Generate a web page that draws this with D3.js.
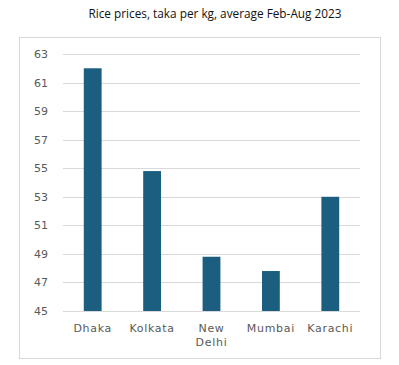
<!DOCTYPE html>
<html>
<head>
<meta charset="utf-8">
<script src="https://cdn.jsdelivr.net/npm/d3@7"></script>
<style>
  body { margin: 0; background: #fff; }
  svg { display: block; }
</style>
</head>
<body>
<svg id="chart" width="399" height="365"></svg>
<script>
const cities = [["Dhaka"], ["Kolkata"], ["New", "Delhi"], ["Mumbai"], ["Karachi"]];
const prices = [62, 54.8, 48.8, 47.8, 53];
const yTicks = [45, 47, 49, 51, 53, 55, 57, 59, 61, 63];

const TITLE = "Rice prices, taka per kg, average Feb-Aug 2023";
const BAR_COLOR = "#1b5e7f";

const svg = d3.select("#chart");

// outer frame
svg.append("rect")
    .attr("x", 19.5).attr("y", 37.5)
    .attr("width", 361).attr("height", 321)
    .attr("fill", "#fff")
    .attr("stroke", "#d9d9d9");

svg.append("text")
    .attr("x", 215).attr("y", 18)
    .attr("text-anchor", "middle")
    .style("font-family", "'Open Sans', sans-serif")
    .style("font-size", "11.8px")
    .attr("fill", "#111")
    .text(TITLE);

const x = d3.scaleBand()
    .domain(cities.map((c) => c.join(" ")))
    .range([63, 360])
    .paddingInner(0.7)
    .paddingOuter(0.35);

const y = d3.scaleLinear()
    .domain([45, 63])
    .range([311, 54]);

// gridlines
svg.append("g")
    .selectAll("line")
    .data(yTicks)
    .join("line")
    .attr("x1", 63).attr("x2", 360)
    .attr("y1", (d) => Math.round(y(d)) + 0.5)
    .attr("y2", (d) => Math.round(y(d)) + 0.5)
    .attr("stroke", "#d9d9d9")
    .attr("stroke-width", 1);

// y labels
svg.append("g")
    .selectAll("text")
    .data(yTicks)
    .join("text")
    .attr("x", 48)
    .attr("y", (d) => y(d) + 4)
    .attr("text-anchor", "end")
    .style("font-family", "'DejaVu Sans', sans-serif")
    .style("font-size", "11px")
    .attr("fill", "#595959")
    .text((d) => d);

// bars
svg.append("g")
    .selectAll("rect")
    .data(prices)
    .join("rect")
    .attr("x", (d, i) => x(cities[i].join(" ")))
    .attr("width", x.bandwidth())
    .attr("y", (d) => y(d))
    .attr("height", (d) => y(45) - y(d))
    .attr("fill", BAR_COLOR);

// x labels
const xl = svg.append("g")
    .selectAll("text")
    .data(cities)
    .join("text")
    .attr("x", (c) => x(c.join(" ")) + x.bandwidth() / 2)
    .attr("y", 332)
    .attr("text-anchor", "middle")
    .style("font-family", "'DejaVu Sans', sans-serif")
    .style("font-size", "11px")
    .style("letter-spacing", "0.7px")
    .attr("fill", "#595959");

xl.selectAll("tspan")
    .data((c) => c)
    .join("tspan")
    .attr("x", function () { return d3.select(this.parentNode).attr("x"); })
    .attr("dy", (d, i) => i === 0 ? 0 : 14)
    .text((d) => d);
</script>
</body>
</html>
